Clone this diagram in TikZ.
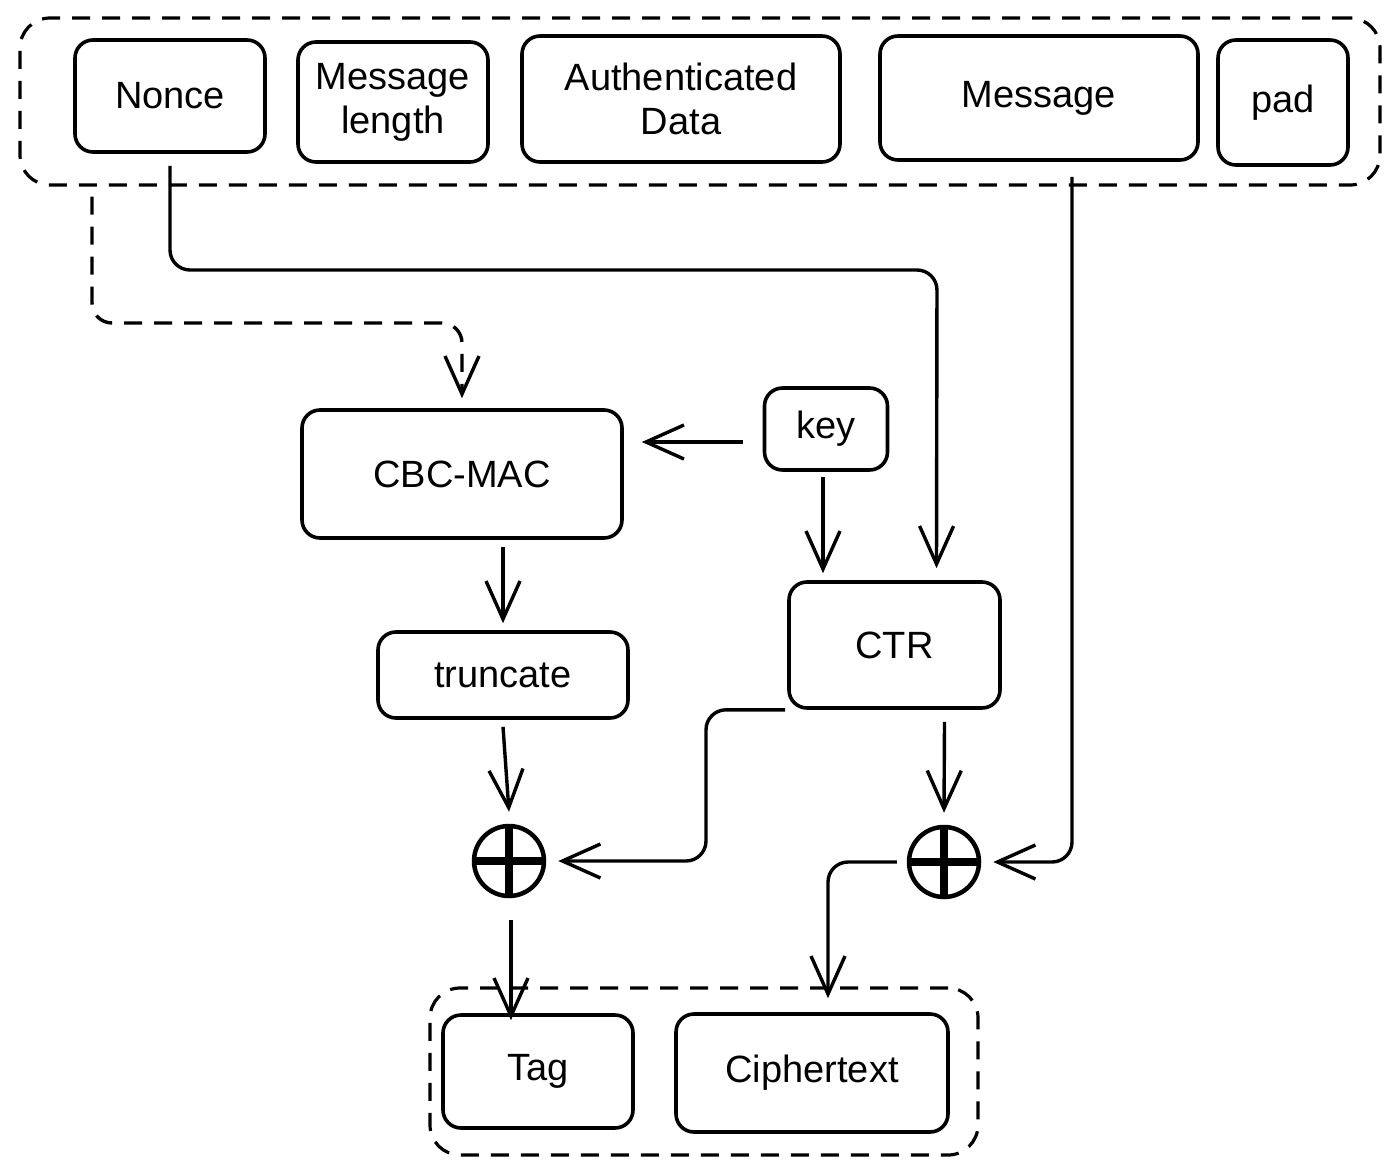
\documentclass[tikz,border=0pt]{standalone}
\usepackage{fontspec}
\setmainfont{Liberation Sans}
\usetikzlibrary{arrows.meta}
\begin{document}
\begin{tikzpicture}[x=1pt,y=-1pt,
  box/.style={draw,line width=3.6pt,rounded corners=18pt,font=\fontsize{38}{44}\selectfont,align=center,inner sep=0pt},
  group/.style={draw,line width=3.2pt,dash pattern=on 18pt off 12pt,rounded corners=30pt,inner sep=0pt},
  conn/.style={line width=3.4pt,-{Straight Barb[length=38pt,width=34pt]},rounded corners=20pt},
  xorc/.style={circle,draw,line width=4.5pt,minimum size=70pt,inner sep=0pt},
  xorbar/.style={line width=8pt}]
\useasboundingbox (0,0) rectangle (1399,1174);
% groups
\node[group,minimum width=1360pt,minimum height=167pt] (inputs) at (700,101.5) {};
\node[group,minimum width=548pt,minimum height=167pt] (outputs) at (704,1071.5) {};
% input boxes
\node[box,minimum width=190pt,minimum height=112pt] (nonce) at (170,96) {Nonce};
\node[box,minimum width=190pt,minimum height=120pt] (mlen) at (393,102) {Message\\length};
\node[box,minimum width=318pt,minimum height=126pt] (ad) at (681,99) {Authenticated\\Data};
\node[box,minimum width=318pt,minimum height=124pt] (msg) at (1039,98) {Message};
\node[box,minimum width=130pt,minimum height=125pt] (pad) at (1283,102.5) {pad};
% middle
\node[box,minimum width=123pt,minimum height=82pt] (key) at (826,429) {key};
\node[box,minimum width=320pt,minimum height=128pt] (cbc) at (462,474) {CBC-MAC};
\node[box,minimum width=211pt,minimum height=126pt] (ctr) at (894.5,645) {CTR};
\node[box,minimum width=250pt,minimum height=86pt] (trunc) at (503,675) {truncate};
% xors
\node[xorc] (x1) at (509,861) {};
\draw[xorbar] (x1.north) -- (x1.south);
\draw[xorbar] (x1.west) -- (x1.east);
\node[xorc] (x2) at (944,862) {};
\draw[xorbar] (x2.north) -- (x2.south);
\draw[xorbar] (x2.west) -- (x2.east);
% outputs
\node[box,minimum width=190pt,minimum height=113pt] (tag) at (538,1071.5) {Tag};
\node[box,minimum width=272pt,minimum height=118pt] (cipher) at (812,1073) {Ciphertext};
% connectors
\draw[conn,dash pattern=on 18pt off 12pt] ([xshift=-608pt,yshift=-10pt]inputs.south) |- (cbc.north |- 0,323) -- ([yshift=10pt]cbc.north);
\draw[conn] ([yshift=-12pt]nonce.south) |- (937,270) -- ([xshift=42pt,yshift=12pt]ctr.north);
\draw[conn] ([xshift=-20pt,yshift=-13pt]key.west) -- ([xshift=18pt,yshift=32pt]cbc.east);
\draw[conn] ([xshift=-3pt,yshift=-5pt]key.south) -- ([xshift=-71.5pt,yshift=7pt]ctr.north);
\draw[conn] ([xshift=41pt,yshift=-7pt]cbc.south) -- ([yshift=7pt]trunc.north);
\draw[conn] ([yshift=-7pt]trunc.south) -- ([yshift=12pt]x1.north);
\draw[conn] ([xshift=-2pt]ctr.south west) -| (706,0 |- x1.east) -- ([xshift=12pt]x1.east);
\draw[conn] ([xshift=50pt,yshift=-12pt]ctr.south) -- ([yshift=12pt]x2.north);
\draw[conn] ([xshift=33pt,yshift=-15pt]msg.south) |- ([xshift=12pt]x2.east);
\draw[conn] ([xshift=-10pt]x2.west) -| ([xshift=16pt,yshift=14pt]cipher.north);
\draw[conn] ([xshift=2pt,yshift=-22pt]x1.south) -- ([xshift=-27pt,yshift=-7pt]tag.north);
\end{tikzpicture}
\end{document}
